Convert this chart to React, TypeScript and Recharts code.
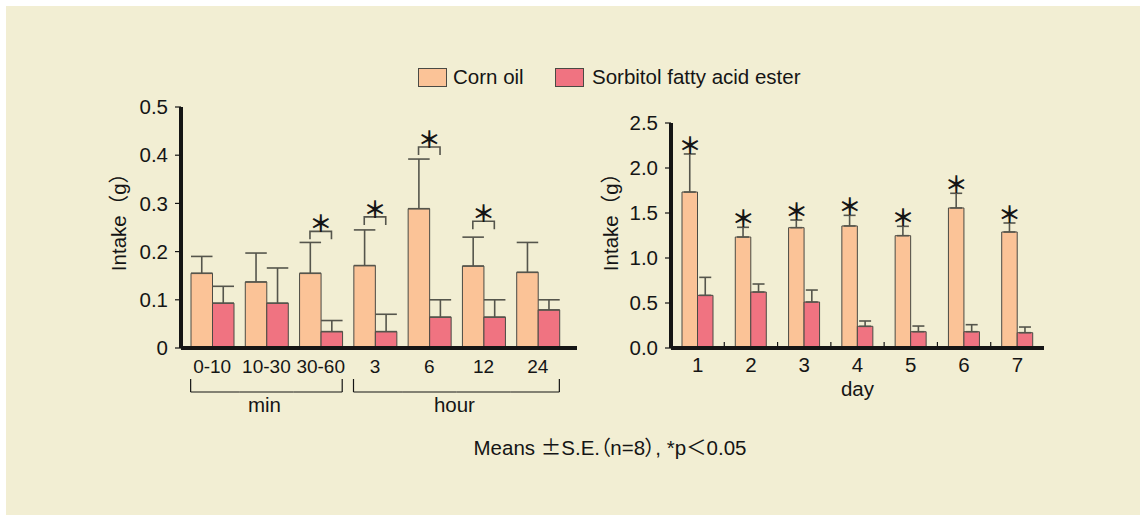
import React from 'react';
import { ComposedChart, Bar, XAxis, YAxis, ErrorBar, Scatter } from 'recharts';

// short-term intake (min / hour)
const shortCats = ['0-10', '10-30', '30-60', '3', '6', '12', '24'];
const shortGroups = ['min', 'min', 'min', 'hour', 'hour', 'hour', 'hour'];
const shortCorn = [0.155, 0.137, 0.155, 0.171, 0.289, 0.17, 0.157];
const shortCornSe = [0.035, 0.06, 0.064, 0.074, 0.103, 0.06, 0.062];
const shortSorb = [0.093, 0.093, 0.034, 0.034, 0.064, 0.064, 0.079];
const shortSorbSe = [0.035, 0.073, 0.023, 0.036, 0.036, 0.036, 0.021];
const shortSig = [null, null, 0.242, 0.272, 0.417, 0.263, null];
const shortTicks = [0, 0.1, 0.2, 0.3, 0.4, 0.5];

// daily intake
const days = ['1', '2', '3', '4', '5', '6', '7'];
const dayCorn = [1.733, 1.233, 1.337, 1.356, 1.248, 1.556, 1.289];
const dayCornSe = [0.423, 0.108, 0.085, 0.118, 0.104, 0.163, 0.1];
const daySorb = [0.585, 0.622, 0.511, 0.241, 0.181, 0.181, 0.17];
const daySorbSe = [0.2, 0.089, 0.133, 0.059, 0.063, 0.078, 0.063];
const daySig = [true, true, true, true, true, true, true];
const dayTicks = [0, 0.5, 1, 1.5, 2, 2.5];

const CORN = '#FBC397';
const SORB = '#F07381';
const EDGE = '#4a4a44';
const INK = '#151515';
const ERR = '#55554c';
const FONT = '"Liberation Sans", Arial, "Noto Sans CJK JP", sans-serif';
const CJK = '"Noto Sans CJK JP", sans-serif';
const FS = 20.5;
const PALT = { fontFeatureSettings: '"palt"' };

const shortData = shortCats.map((cat, i) => ({
  cat,
  corn: shortCorn[i],
  sorb: shortSorb[i],
  cornErr: [0, shortCornSe[i]],
  sorbErr: [0, shortSorbSe[i]],
  sig: shortSig[i],
}));

const dayData = days.map((cat, i) => ({
  cat,
  corn: dayCorn[i],
  sorb: daySorb[i],
  cornErr: [0, dayCornSe[i]],
  sorbErr: [0, daySorbSe[i]],
  star: daySig[i] ? dayCorn[i] + dayCornSe[i] : null,
}));

const L_PAD = { left: 4, right: 12 };
const L_BAND = (396 - L_PAD.left - L_PAD.right) / shortCats.length;
const L_BAR = 21.5;
const R_BAND = 373 / days.length;
const R_BAR = 15.5;

function ShortTick(props: any) {
  const { x, y, payload, index } = props;
  const i = index;
  const g = shortGroups[i];
  const first = i === 0 || shortGroups[i - 1] !== g;
  const last = i === shortGroups.length - 1 || shortGroups[i + 1] !== g;
  const x1 = first ? x - L_BAR : x - L_BAND / 2;
  const x2 = last ? x + L_BAR : x + L_BAND / 2;
  const members = shortGroups.map((v, k) => (v === g ? k : -1)).filter((k) => k >= 0);
  const mid = (members[0] + members[members.length - 1]) / 2;
  const showLabel = i === Math.floor(mid);
  return (
    <g>
      <text x={x} y={y + 25} textAnchor="middle" fontSize={19} fill={INK}>
        {payload.value}
      </text>
      <line x1={x1} x2={x2} y1={y + 44} y2={y + 44} stroke={INK} strokeWidth={1.2} />
      {first && <line x1={x1} x2={x1} y1={y + 31} y2={y + 44} stroke={INK} strokeWidth={1.2} />}
      {last && <line x1={x2} x2={x2} y1={y + 31} y2={y + 44} stroke={INK} strokeWidth={1.2} />}
      {showLabel && (
        <text x={x + (mid - i) * L_BAND - 2} y={y + 64} textAnchor="middle" fontSize={FS} fill={INK}>
          {g}
        </text>
      )}
    </g>
  );
}

function DayTick(props: any) {
  const { x, y, payload, index } = props;
  return (
    <g>
      <text x={x} y={y + 24} textAnchor="middle" fontSize={FS} fill={INK}>
        {payload.value}
      </text>
      {index < days.length - 1 && (
        <line x1={x + R_BAND / 2} x2={x + R_BAND / 2} y1={y - 2} y2={y - 6} stroke={INK} strokeWidth={1.2} />
      )}
    </g>
  );
}

function Bracket(props: any) {
  const { cx, cy, payload } = props;
  if (payload == null || payload.sig == null || !Number.isFinite(cy)) return <g />;
  const h = L_BAR / 2;
  return (
    <g>
      <path d={`M${cx - h},${cy + 8} V${cy} H${cx + h} V${cy + 8}`} fill="none" stroke={ERR} strokeWidth={1.6} />
      <text
        x={cx}
        y={cy - 9}
        textAnchor="middle"
        dominantBaseline="central"
        fontSize={23}
        fontWeight={700}
        fontFamily={CJK}
        fill={INK}
      >
        ＊
      </text>
    </g>
  );
}

function Star(props: any) {
  const { cx, cy, payload } = props;
  if (payload == null || payload.star == null || !Number.isFinite(cy)) return <g />;
  return (
    <text
      x={cx - R_BAR / 2}
      y={cy - 10}
      textAnchor="middle"
      dominantBaseline="central"
      fontSize={23}
      fontWeight={700}
      fontFamily={CJK}
      fill={INK}
    >
      ＊
    </text>
  );
}

const yTick = { fontSize: FS, fill: INK };
const axisLine = { stroke: INK, strokeWidth: 4 };

export default function App() {
  return (
    <div
      style={{
        position: 'absolute',
        left: 0,
        top: 0,
        width: 1140,
        height: 515,
        background: '#ffffff',
        fontFamily: FONT,
      }}
    >
      <div style={{ position: 'absolute', left: 6, top: 6, right: 0, bottom: 0, background: '#F2EED3' }} />

      <div style={{ position: 'absolute', left: 100, top: 90 }}>
        <ComposedChart
          width={490}
          height={340}
          data={shortData}
          margin={{ top: 17, right: 13, bottom: 10, left: 30 }}
          barGap={0}
        >
          <XAxis
            dataKey="cat"
            padding={L_PAD}
            height={72}
            tickSize={0}
            tickMargin={0}
            tickLine={false}
            axisLine={axisLine}
            tick={<ShortTick />}
            interval={0}
          />
          <YAxis
            width={51}
            domain={[0, 0.5]}
            ticks={shortTicks}
            tickFormatter={(v: number) => (v === 0 ? '0' : v.toFixed(1))}
            axisLine={axisLine}
            tickLine={{ stroke: INK, strokeWidth: 1.2 }}
            tickSize={6}
            tickMargin={7}
            tick={yTick}
          />
          <Bar dataKey="corn" fill={CORN} stroke={EDGE} barSize={L_BAR} isAnimationActive={false}>
            <ErrorBar dataKey="cornErr" width={L_BAR / 2} stroke={ERR} strokeWidth={1.6} direction="y" />
          </Bar>
          <Bar dataKey="sorb" fill={SORB} stroke={EDGE} barSize={L_BAR} isAnimationActive={false}>
            <ErrorBar dataKey="sorbErr" width={L_BAR / 2} stroke={ERR} strokeWidth={1.6} direction="y" />
          </Bar>
          <Scatter dataKey="sig" shape={<Bracket />} isAnimationActive={false} />
        </ComposedChart>
      </div>

      <div style={{ position: 'absolute', left: 580, top: 100 }}>
        <ComposedChart
          width={480}
          height={310}
          data={dayData}
          margin={{ top: 23, right: 16, bottom: 10, left: 40 }}
          barGap={0}
        >
          <XAxis
            dataKey="cat"
            height={52}
            tickSize={0}
            tickMargin={0}
            tickLine={false}
            axisLine={axisLine}
            tick={<DayTick />}
            interval={0}
            label={{ value: 'day', position: 'insideBottom', offset: 4, fontSize: FS, fill: INK }}
          />
          <YAxis
            width={51}
            domain={[0, 2.5]}
            ticks={dayTicks}
            tickFormatter={(v: number) => v.toFixed(1)}
            axisLine={axisLine}
            tickLine={{ stroke: INK, strokeWidth: 1.2 }}
            tickSize={6}
            tickMargin={7}
            tick={yTick}
          />
          <Bar dataKey="corn" fill={CORN} stroke={EDGE} barSize={R_BAR} isAnimationActive={false}>
            <ErrorBar dataKey="cornErr" width={6} stroke={ERR} strokeWidth={1.6} direction="y" />
          </Bar>
          <Bar dataKey="sorb" fill={SORB} stroke={EDGE} barSize={R_BAR} isAnimationActive={false}>
            <ErrorBar dataKey="sorbErr" width={6} stroke={ERR} strokeWidth={1.6} direction="y" />
          </Bar>
          <Scatter dataKey="star" shape={<Star />} isAnimationActive={false} />
        </ComposedChart>
      </div>

      <svg
        width={1140}
        height={515}
        style={{ position: 'absolute', left: 0, top: 0, pointerEvents: 'none' }}
        fontFamily={FONT}
      >
        <text
          transform="translate(118,217) rotate(-90)"
          textAnchor="middle"
          dominantBaseline="central"
          fontSize={FS}
          fill={INK}
        >
          Intake（g）
        </text>
        <text
          transform="translate(610,217) rotate(-90)"
          textAnchor="middle"
          dominantBaseline="central"
          fontSize={FS}
          fill={INK}
        >
          Intake（g）
        </text>

        <rect x={418.5} y={68.5} width={28} height={18} fill={CORN} stroke={EDGE} />
        <text x={453} y={84} fontSize={FS} fill={INK}>
          Corn oil
        </text>
        <rect x={555.5} y={68.5} width={28} height={18} fill={SORB} stroke={EDGE} />
        <text x={592} y={84} fontSize={FS} fill={INK}>
          Sorbitol fatty acid ester
        </text>

        <text x={610} y={455} textAnchor="middle" fontSize={FS} fill={INK} style={PALT}>
          Means <tspan fontFamily={CJK}>±</tspan>S.E.（n=8）, *p＜0.05
        </text>
      </svg>
    </div>
  );
}
